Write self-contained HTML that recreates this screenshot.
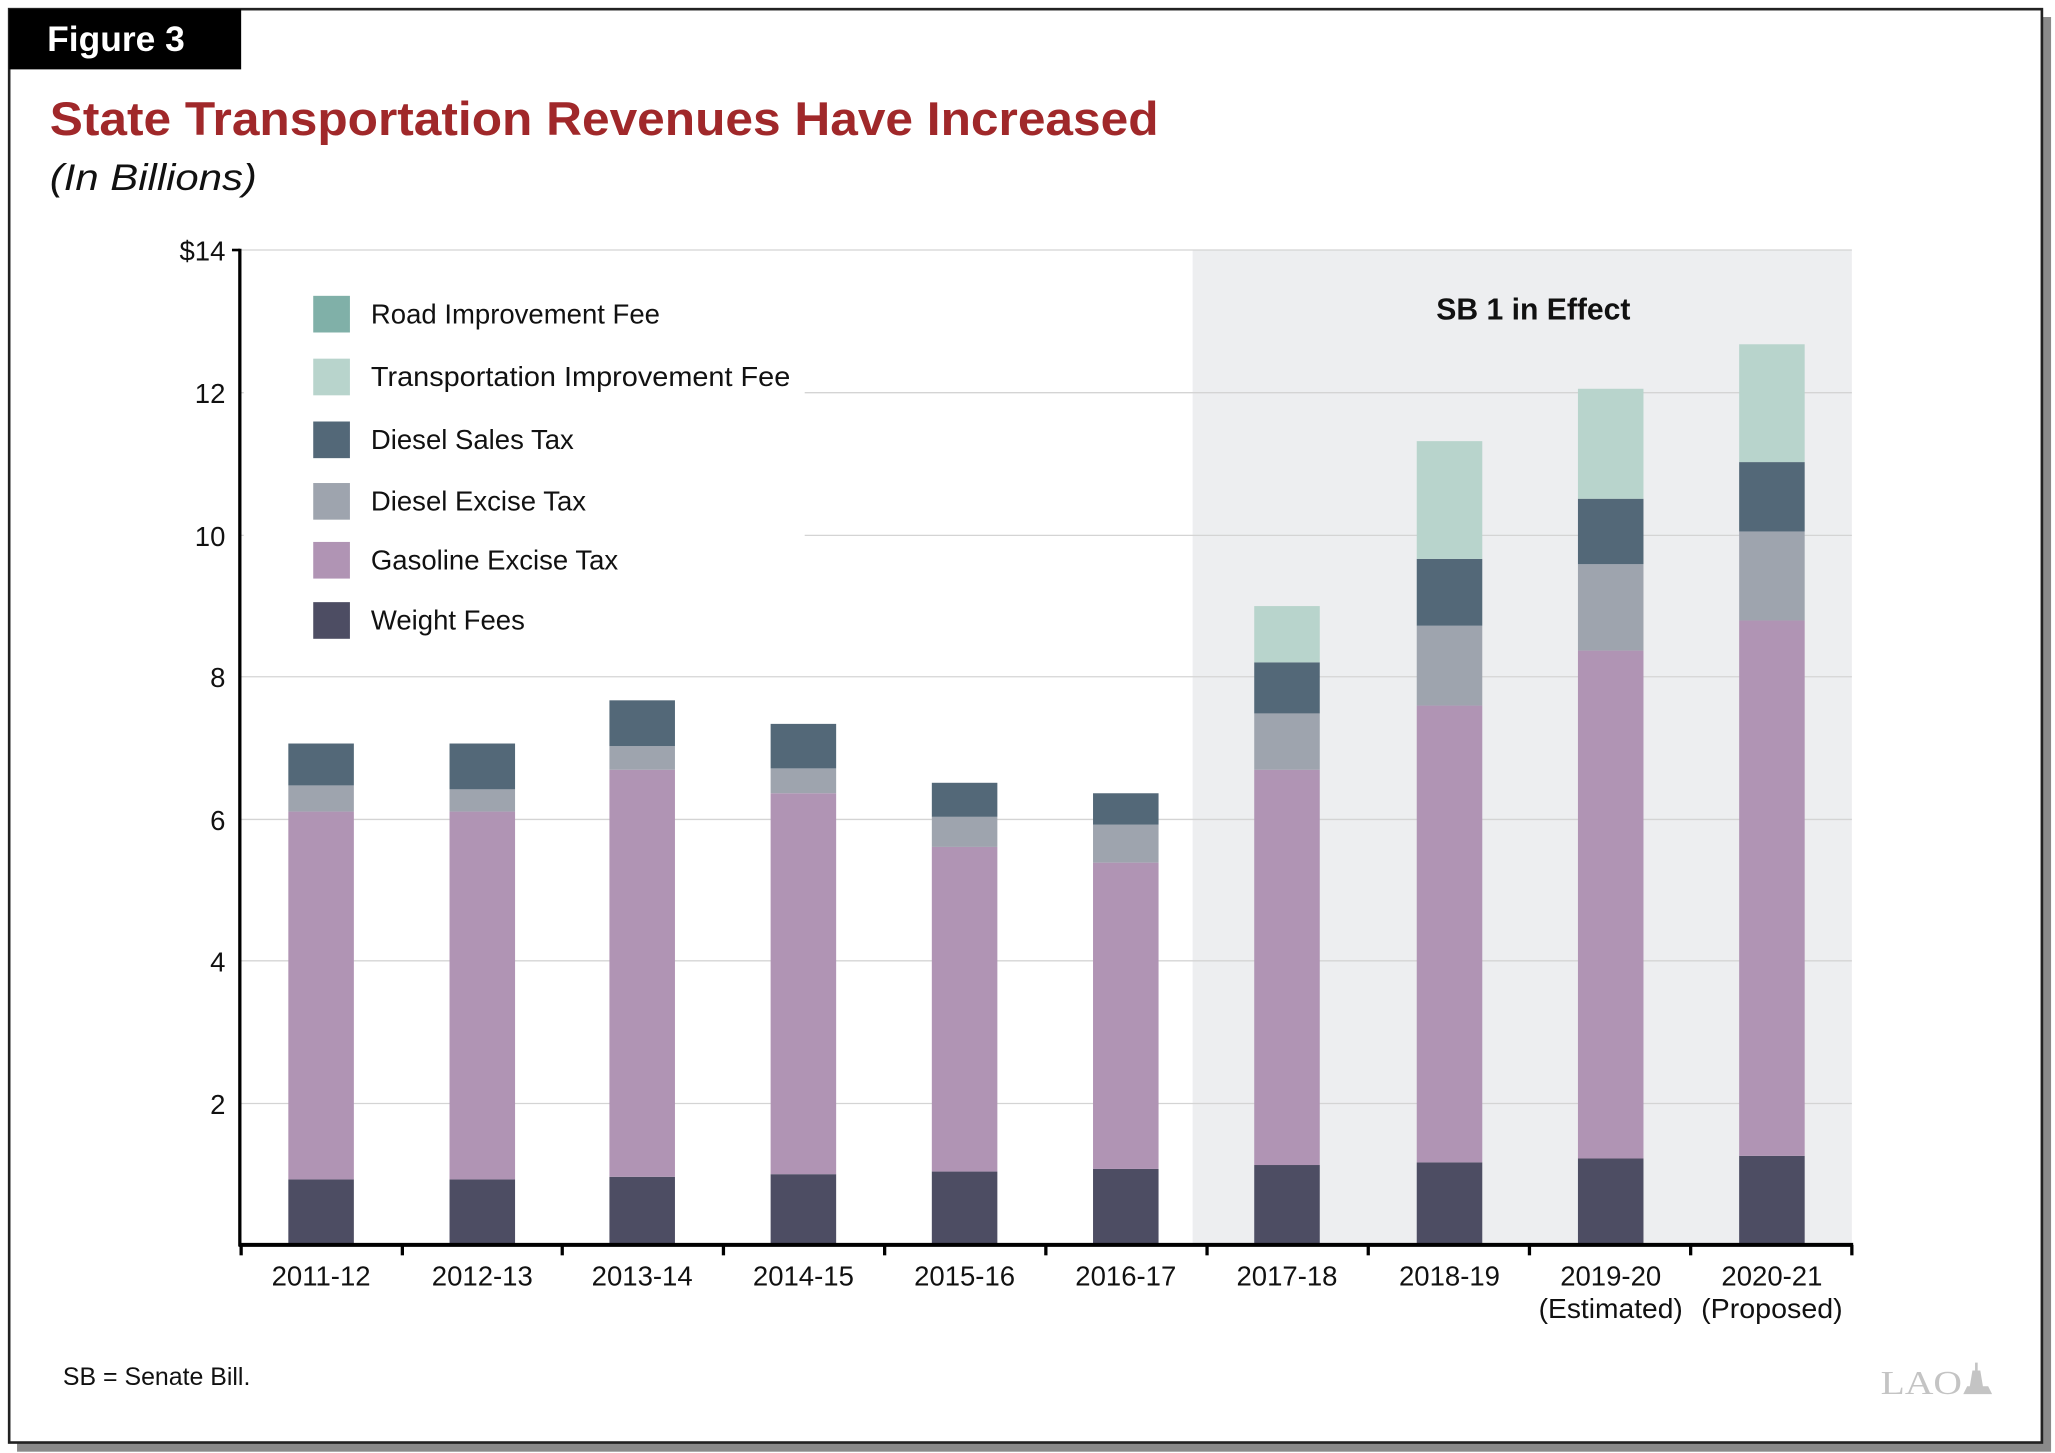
<!DOCTYPE html>
<html><head><meta charset="utf-8"><style>html,body{margin:0;padding:0;background:#fff}svg{display:block}</style></head>
<body>
<svg width="2055" height="1453" viewBox="0 0 1568 1110" preserveAspectRatio="none" xmlns="http://www.w3.org/2000/svg" font-family="Liberation Sans, sans-serif">
<rect x="0" y="0" width="1568" height="1110" fill="#fff"/>
<rect x="13" y="13" width="1552" height="1096" fill="#8a8a8a"/>
<rect x="7" y="7" width="1551" height="1095" fill="#fff" stroke="#222" stroke-width="2"/>
<rect x="7" y="7" width="177" height="46" fill="#000"/>
<text x="36" y="39" font-size="27" font-weight="bold" fill="#fff">Figure 3</text>
<text x="38" y="103" font-size="36" font-weight="bold" fill="#a0282a" textLength="846" lengthAdjust="spacingAndGlyphs">State Transportation Revenues Have Increased</text>
<text x="38" y="145" font-size="28" font-style="italic" fill="#111" textLength="158" lengthAdjust="spacingAndGlyphs">(In Billions)</text>
<rect x="910" y="191" width="503" height="760" fill="#edeef0"/>
<g stroke="#d4d4d4" stroke-width="1">
<line x1="183" y1="191" x2="1413" y2="191"/><line x1="183" y1="300" x2="1413" y2="300"/><line x1="183" y1="409" x2="1413" y2="409"/><line x1="183" y1="517" x2="1413" y2="517"/><line x1="183" y1="626" x2="1413" y2="626"/><line x1="183" y1="734" x2="1413" y2="734"/><line x1="183" y1="843" x2="1413" y2="843"/>
</g>
<rect x="186" y="205" width="428" height="295" fill="#fff"/>
<g font-size="21" fill="#111" text-anchor="end">
<text x="172" y="199">$14</text><text x="172" y="308">12</text><text x="172" y="417">10</text><text x="172" y="525">8</text><text x="172" y="634">6</text><text x="172" y="742">4</text><text x="172" y="851">2</text>
</g>
<g>
<!-- bars: x, weight, gas, dex, dst, tif -->
<rect x="220" y="901" width="50" height="50" fill="#4d4d63"/><rect x="220" y="620" width="50" height="281" fill="#b094b4"/><rect x="220" y="600" width="50" height="20" fill="#9ea4ae"/><rect x="220" y="568" width="50" height="32" fill="#536878"/>
<rect x="343" y="901" width="50" height="50" fill="#4d4d63"/><rect x="343" y="620" width="50" height="281" fill="#b094b4"/><rect x="343" y="603" width="50" height="17" fill="#9ea4ae"/><rect x="343" y="568" width="50" height="35" fill="#536878"/>
<rect x="465" y="899" width="50" height="52" fill="#4d4d63"/><rect x="465" y="588" width="50" height="311" fill="#b094b4"/><rect x="465" y="570" width="50" height="18" fill="#9ea4ae"/><rect x="465" y="535" width="50" height="35" fill="#536878"/>
<rect x="588" y="897" width="50" height="54" fill="#4d4d63"/><rect x="588" y="606" width="50" height="291" fill="#b094b4"/><rect x="588" y="587" width="50" height="19" fill="#9ea4ae"/><rect x="588" y="553" width="50" height="34" fill="#536878"/>
<rect x="711" y="895" width="50" height="56" fill="#4d4d63"/><rect x="711" y="647" width="50" height="248" fill="#b094b4"/><rect x="711" y="624" width="50" height="23" fill="#9ea4ae"/><rect x="711" y="598" width="50" height="26" fill="#536878"/>
<rect x="834" y="893" width="50" height="58" fill="#4d4d63"/><rect x="834" y="659" width="50" height="234" fill="#b094b4"/><rect x="834" y="630" width="50" height="29" fill="#9ea4ae"/><rect x="834" y="606" width="50" height="24" fill="#536878"/>
<rect x="957" y="890" width="50" height="61" fill="#4d4d63"/><rect x="957" y="588" width="50" height="302" fill="#b094b4"/><rect x="957" y="545" width="50" height="43" fill="#9ea4ae"/><rect x="957" y="506" width="50" height="39" fill="#536878"/><rect x="957" y="463" width="50" height="43" fill="#b8d4cc"/>
<rect x="1081" y="888" width="50" height="63" fill="#4d4d63"/><rect x="1081" y="539" width="50" height="349" fill="#b094b4"/><rect x="1081" y="478" width="50" height="61" fill="#9ea4ae"/><rect x="1081" y="427" width="50" height="51" fill="#536878"/><rect x="1081" y="337" width="50" height="90" fill="#b8d4cc"/>
<rect x="1204" y="885" width="50" height="66" fill="#4d4d63"/><rect x="1204" y="497" width="50" height="388" fill="#b094b4"/><rect x="1204" y="431" width="50" height="66" fill="#9ea4ae"/><rect x="1204" y="381" width="50" height="50" fill="#536878"/><rect x="1204" y="297" width="50" height="84" fill="#b8d4cc"/>
<rect x="1327" y="883" width="50" height="68" fill="#4d4d63"/><rect x="1327" y="474" width="50" height="409" fill="#b094b4"/><rect x="1327" y="406" width="50" height="68" fill="#9ea4ae"/><rect x="1327" y="353" width="50" height="53" fill="#536878"/><rect x="1327" y="263" width="50" height="90" fill="#b8d4cc"/>
</g>
<g stroke="#000">
<line x1="183" y1="190" x2="183" y2="952" stroke-width="2.5"/>
<line x1="177" y1="191" x2="183" y2="191" stroke-width="2"/>
<line x1="182" y1="951" x2="1414" y2="951" stroke-width="3"/>
<g stroke-width="2.5"><line x1="184" y1="951" x2="184" y2="959"/><line x1="307" y1="951" x2="307" y2="959"/><line x1="429" y1="951" x2="429" y2="959"/><line x1="552" y1="951" x2="552" y2="959"/><line x1="675" y1="951" x2="675" y2="959"/><line x1="798" y1="951" x2="798" y2="959"/><line x1="921" y1="951" x2="921" y2="959"/><line x1="1044" y1="951" x2="1044" y2="959"/><line x1="1167" y1="951" x2="1167" y2="959"/><line x1="1290" y1="951" x2="1290" y2="959"/><line x1="1413" y1="951" x2="1413" y2="959"/></g>
</g>
<g font-size="21" fill="#111" text-anchor="middle">
<text x="245" y="982">2011-12</text><text x="368" y="982">2012-13</text><text x="490" y="982">2013-14</text><text x="613" y="982">2014-15</text><text x="736" y="982">2015-16</text><text x="859" y="982">2016-17</text><text x="982" y="982">2017-18</text><text x="1106" y="982">2018-19</text><text x="1229" y="982">2019-20</text><text x="1352" y="982">2020-21</text>
<text x="1229" y="1007" textLength="110" lengthAdjust="spacingAndGlyphs">(Estimated)</text><text x="1352" y="1007" textLength="108" lengthAdjust="spacingAndGlyphs">(Proposed)</text>
</g>
<text x="1170" y="244" font-size="23" font-weight="bold" fill="#111" text-anchor="middle">SB 1 in Effect</text>
<g>
<rect x="239" y="226" width="28" height="28" fill="#80b0a8"/>
<rect x="239" y="274" width="28" height="28" fill="#b8d4cc"/>
<rect x="239" y="322" width="28" height="28" fill="#536878"/>
<rect x="239" y="369" width="28" height="28" fill="#9ea4ae"/>
<rect x="239" y="414" width="28" height="28" fill="#b094b4"/>
<rect x="239" y="460" width="28" height="28" fill="#4d4d63"/>
</g>
<g font-size="21" fill="#111">
<text x="283" y="247">Road Improvement Fee</text>
<text x="283" y="295" textLength="320" lengthAdjust="spacingAndGlyphs">Transportation Improvement Fee</text>
<text x="283" y="343">Diesel Sales Tax</text>
<text x="283" y="390">Diesel Excise Tax</text>
<text x="283" y="435">Gasoline Excise Tax</text>
<text x="283" y="481">Weight Fees</text>
</g>
<text x="48" y="1058" font-size="19" fill="#111">SB = Senate Bill.</text>
<text x="1435" y="1065" font-size="26" font-family="Liberation Serif, serif" fill="#c4c4c4" textLength="62" lengthAdjust="spacingAndGlyphs">LAO</text>
<path d="M1498 1065 h22 l-3 -6 h-16 z M1503 1059 l2 -12 h6 l2 12 z M1507 1047 v-6 h2 v6z" fill="#c4c4c4"/>
</svg>
</body></html>
